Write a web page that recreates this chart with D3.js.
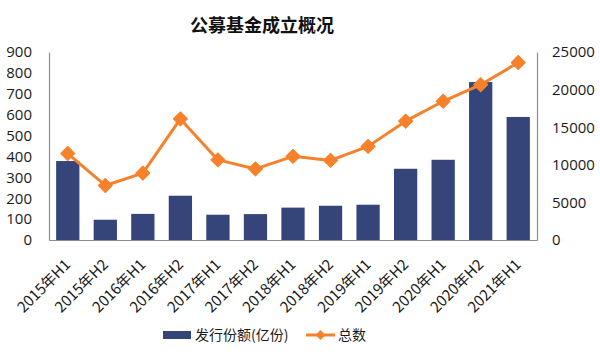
<!DOCTYPE html>
<html><head><meta charset="utf-8">
<script src="https://cdn.jsdelivr.net/npm/d3@7"></script>
<style>body{margin:0;background:#fff}</style>
</head><body>
<svg id="c" width="600" height="360"></svg>
<script>
const categories = ["2015年H1","2015年H2","2016年H1","2016年H2","2017年H1","2017年H2","2018年H1","2018年H2","2019年H1","2019年H2","2020年H1","2020年H2","2021年H1"];
const issuance = [378, 97, 125, 212, 121, 124, 155, 164, 169, 341, 384, 756, 589];
const totalCount = [11500, 7250, 8900, 16100, 10650, 9450, 11130, 10580, 12450, 15800, 18450, 20650, 23600];
const leftTicks = [0,100,200,300,400,500,600,700,800,900];
const rightTicks = [0,5000,10000,15000,20000,25000];
const seriesNames = ["发行份额(亿份)","总数"];
const title = "公募基金成立概况";

const svg = d3.select("#c");
const font = "'Noto Sans CJK SC', 'Noto Sans', sans-serif";
const numFont = "'Open Sans', 'Noto Sans', sans-serif";
const L = 49, R = 537, T = 52, B = 240;
const barColor = "#35457A", lineColor = "#F7812B", axisColor = "#8C8C8C", textColor = "#1a1a1a";

const x = d3.scaleBand().domain(categories).range([L, R]).paddingInner(0.38).paddingOuter(0.19);
const yL = d3.scaleLinear().domain([0, 900]).range([B, T]);
const yR = d3.scaleLinear().domain([0, 25000]).range([B, T]);

svg.append("text").attr("x", 262).attr("y", 32).attr("text-anchor","middle")
  .attr("font-family", font).attr("font-weight","bold").attr("font-size", 18).attr("fill","#111").text(title);

// bars
svg.append("g").selectAll("rect").data(issuance).join("rect")
  .attr("x",(d,i)=>x(categories[i])).attr("width",x.bandwidth())
  .attr("y",d=>yL(d)).attr("height",d=>B-yL(d)).attr("fill",barColor);

// axes
const axL = svg.append("g").attr("transform",`translate(${L},0)`)
  .call(d3.axisLeft(yL).tickValues(leftTicks).tickSize(0).tickPadding(17));
const axR = svg.append("g").attr("transform",`translate(${R},0)`)
  .call(d3.axisRight(yR).tickValues(rightTicks).tickFormat(d3.format("d")).tickSize(0).tickPadding(15));
const axB = svg.append("g").attr("transform",`translate(0,${B})`)
  .call(d3.axisBottom(x).tickSize(0));
[axL,axR,axB].forEach(a=>{
  a.select(".domain").attr("stroke",axisColor).attr("stroke-width",1.2);
  a.selectAll("text").attr("font-family",font).attr("fill",textColor);
});
axL.selectAll("text").attr("font-family",numFont).attr("font-size",15);
axR.selectAll("text").attr("font-family",numFont).attr("font-size",15);
axB.selectAll(".tick text").attr("font-size",15)
  .attr("x",0).attr("y",0).attr("dy","0.35em")
  .attr("text-anchor","end")
  .attr("transform","translate(0,22) rotate(-45)");

// line
const cx = i => x(categories[i]) + x.bandwidth()/2;
const line = d3.line().x((d,i)=>cx(i)).y(d=>yR(d));
svg.append("path").datum(totalCount).attr("d",line).attr("fill","none")
  .attr("stroke",lineColor).attr("stroke-width",3).attr("stroke-linejoin","round");
svg.append("g").selectAll("path").data(totalCount).join("path")
  .attr("d",d3.symbol().type(d3.symbolSquare).size(100))
  .attr("transform",(d,i)=>`translate(${cx(i)},${yR(d)}) rotate(45)`)
  .attr("fill",lineColor).attr("stroke",lineColor).attr("stroke-width",1).attr("stroke-linejoin","round");

// legend
const lg = svg.append("g");
lg.append("rect").attr("x",163).attr("y",331).attr("width",28).attr("height",8).attr("fill",barColor);
lg.append("text").attr("x",195).attr("y",335).attr("dy","0.35em").attr("font-family",font).attr("font-size",14).attr("fill",textColor).text(seriesNames[0]);
lg.append("line").attr("x1",306).attr("x2",335).attr("y1",335).attr("y2",335).attr("stroke",lineColor).attr("stroke-width",3);
lg.append("path").attr("d",d3.symbol().type(d3.symbolSquare).size(50)).attr("transform","translate(320.5,335) rotate(45)").attr("fill",lineColor);
lg.append("text").attr("x",338).attr("y",335).attr("dy","0.35em").attr("font-family",font).attr("font-size",14).attr("fill",textColor).text(seriesNames[1]);
</script>
</body></html>
